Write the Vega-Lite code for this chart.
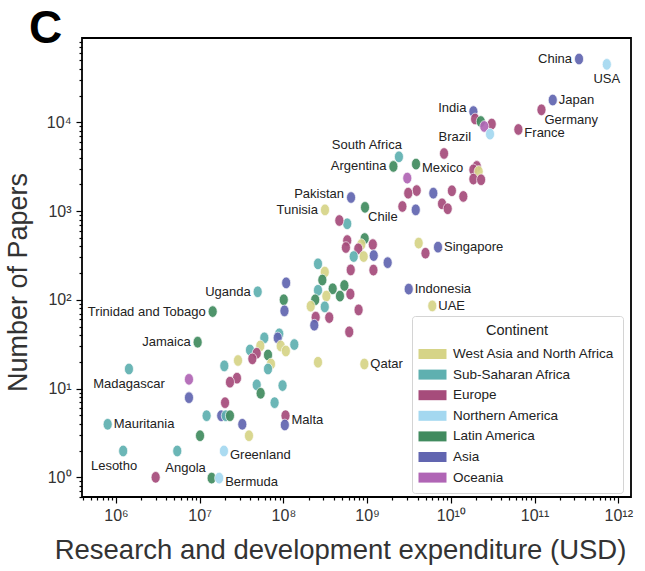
{
  "$schema": "https://vega.github.io/schema/vega-lite/v6.json",
  "autosize": "none",
  "width": 549,
  "height": 459,
  "padding": {"left": 82, "top": 38, "right": 14, "bottom": 74},
  "title": {"text": "C", "anchor": "start", "frame": "group", "fontSize": 46, "fontWeight": "bold", "font": "Liberation Sans", "color": "black", "dx": -53, "offset": -19},
  "config": {
    "view": {"stroke": "black", "strokeWidth": 1.8},
    "font": "Liberation Sans",
    "axis": {"domain": false, "grid": false, "tickColor": "black", "tickWidth": 1.2, "labelColor": "#333", "titleColor": "#333", "labelFont": "Liberation Sans", "titleFont": "Liberation Sans", "titleFontWeight": "normal", "labelOverlap": false, "labelFlush": false, "labelBound": false},
    "text": {"font": "Liberation Sans", "fontSize": 13, "color": "#222"}
  },
  "data": {"values": [
    {"country": "China", "continent": "Asia", "rd": 3.4e11, "papers": 51600},
    {"country": "USA", "continent": "Northern America", "rd": 7.3e11, "papers": 44900},
    {"country": "Japan", "continent": "Asia", "rd": 1.65e11, "papers": 17800},
    {"country": "Germany", "continent": "Europe", "rd": 1.21e11, "papers": 13800},
    {"country": "France", "continent": "Europe", "rd": 6.41e10, "papers": 8300},
    {"country": "India", "continent": "Asia", "rd": 1.86e10, "papers": 13200},
    {"country": "", "continent": "Europe", "rd": 1.95e10, "papers": 10900},
    {"country": "Brazil", "continent": "Latin America", "rd": 2.28e10, "papers": 10200},
    {"country": "", "continent": "Europe", "rd": 3.08e10, "papers": 9550},
    {"country": "", "continent": "Oceania", "rd": 2.51e10, "papers": 8970},
    {"country": "", "continent": "Northern America", "rd": 2.94e10, "papers": 7360},
    {"country": "", "continent": "Europe", "rd": 8.3e9, "papers": 4450},
    {"country": "South Africa", "continent": "Sub-Saharan Africa", "rd": 2.4e9, "papers": 4080},
    {"country": "Argentina", "continent": "Latin America", "rd": 2.06e9, "papers": 3180},
    {"country": "Mexico", "continent": "Latin America", "rd": 3.84e9, "papers": 3380},
    {"country": "", "continent": "Oceania", "rd": 3.02e9, "papers": 2350},
    {"country": "", "continent": "Europe", "rd": 2.04e10, "papers": 3180},
    {"country": "", "continent": "Europe", "rd": 1.86e10, "papers": 2910},
    {"country": "", "continent": "West Asia and North Africa", "rd": 2.15e10, "papers": 2790},
    {"country": "", "continent": "Europe", "rd": 1.86e10, "papers": 2290},
    {"country": "", "continent": "Europe", "rd": 2.3e10, "papers": 2250},
    {"country": "", "continent": "Europe", "rd": 3.91e9, "papers": 1700},
    {"country": "", "continent": "Europe", "rd": 3.1e9, "papers": 1590},
    {"country": "", "continent": "Asia", "rd": 6.18e9, "papers": 1590},
    {"country": "", "continent": "Europe", "rd": 1.03e10, "papers": 1690},
    {"country": "", "continent": "Europe", "rd": 1.41e10, "papers": 1460},
    {"country": "", "continent": "Europe", "rd": 7.85e9, "papers": 1205},
    {"country": "", "continent": "Europe", "rd": 9.18e9, "papers": 1060},
    {"country": "", "continent": "Europe", "rd": 2.64e9, "papers": 1125},
    {"country": "", "continent": "Asia", "rd": 3.81e9, "papers": 1030},
    {"country": "Pakistan", "continent": "Asia", "rd": 6.43e8, "papers": 1420},
    {"country": "Chile", "continent": "Latin America", "rd": 9.44e8, "papers": 1100},
    {"country": "", "continent": "Sub-Saharan Africa", "rd": 5.79e8, "papers": 718},
    {"country": "Tunisia", "continent": "West Asia and North Africa", "rd": 3.14e8, "papers": 1030},
    {"country": "", "continent": "Europe", "rd": 4.66e8, "papers": 782},
    {"country": "", "continent": "Latin America", "rd": 9.35e8, "papers": 490},
    {"country": "", "continent": "Europe", "rd": 5.79e8, "papers": 465},
    {"country": "", "continent": "Europe", "rd": 5.58e8, "papers": 388},
    {"country": "", "continent": "West Asia and North Africa", "rd": 8.53e8, "papers": 419},
    {"country": "", "continent": "Europe", "rd": 7.85e8, "papers": 375},
    {"country": "", "continent": "Europe", "rd": 1.17e9, "papers": 419},
    {"country": "", "continent": "Sub-Saharan Africa", "rd": 6.92e8, "papers": 307},
    {"country": "", "continent": "West Asia and North Africa", "rd": 9.1e8, "papers": 307},
    {"country": "", "continent": "Asia", "rd": 1.2e9, "papers": 315},
    {"country": "", "continent": "Asia", "rd": 1.76e9, "papers": 262},
    {"country": "", "continent": "Europe", "rd": 6.37e8, "papers": 217},
    {"country": "", "continent": "Europe", "rd": 1.19e9, "papers": 216},
    {"country": "", "continent": "West Asia and North Africa", "rd": 4.13e9, "papers": 435},
    {"country": "", "continent": "Europe", "rd": 4.98e9, "papers": 335},
    {"country": "Singapore", "continent": "Asia", "rd": 7.03e9, "papers": 392},
    {"country": "Indonesia", "continent": "Asia", "rd": 3.14e9, "papers": 132},
    {"country": "UAE", "continent": "West Asia and North Africa", "rd": 6.01e9, "papers": 85.3},
    {"country": "", "continent": "Sub-Saharan Africa", "rd": 2.59e8, "papers": 254},
    {"country": "", "continent": "West Asia and North Africa", "rd": 3.12e8, "papers": 205},
    {"country": "", "continent": "Latin America", "rd": 2.92e8, "papers": 167},
    {"country": "", "continent": "Sub-Saharan Africa", "rd": 2.59e8, "papers": 128},
    {"country": "", "continent": "Latin America", "rd": 3.88e8, "papers": 133},
    {"country": "", "continent": "Latin America", "rd": 5.35e8, "papers": 145},
    {"country": "", "continent": "Latin America", "rd": 4.74e8, "papers": 110},
    {"country": "", "continent": "Europe", "rd": 6.31e8, "papers": 116},
    {"country": "", "continent": "West Asia and North Africa", "rd": 3.26e8, "papers": 110},
    {"country": "", "continent": "Latin America", "rd": 2.4e8, "papers": 99.8},
    {"country": "", "continent": "West Asia and North Africa", "rd": 2.12e8, "papers": 84.7},
    {"country": "", "continent": "Sub-Saharan Africa", "rd": 3.12e8, "papers": 83.2},
    {"country": "", "continent": "Europe", "rd": 7.91e8, "papers": 76.9},
    {"country": "", "continent": "Europe", "rd": 2.43e8, "papers": 63.7},
    {"country": "", "continent": "Europe", "rd": 3.53e8, "papers": 63},
    {"country": "", "continent": "Asia", "rd": 2.34e8, "papers": 51.8},
    {"country": "", "continent": "Europe", "rd": 6.12e8, "papers": 43.5},
    {"country": "Uganda", "continent": "Sub-Saharan Africa", "rd": 4.93e7, "papers": 123},
    {"country": "", "continent": "Asia", "rd": 1.08e8, "papers": 155},
    {"country": "", "continent": "Latin America", "rd": 1.01e8, "papers": 100},
    {"country": "", "continent": "Asia", "rd": 1.03e8, "papers": 75},
    {"country": "Trinidad and Tobago", "continent": "Latin America", "rd": 1.43e7, "papers": 73.6},
    {"country": "Jamaica", "continent": "Latin America", "rd": 9.46e6, "papers": 33.3},
    {"country": "", "continent": "West Asia and North Africa", "rd": 2.59e8, "papers": 19.8},
    {"country": "Qatar", "continent": "West Asia and North Africa", "rd": 9.27e8, "papers": 18.9},
    {"country": "", "continent": "Sub-Saharan Africa", "rd": 5.92e7, "papers": 37.2},
    {"country": "", "continent": "Sub-Saharan Africa", "rd": 8.93e7, "papers": 41.3},
    {"country": "", "continent": "Asia", "rd": 8.55e7, "papers": 37.2},
    {"country": "", "continent": "West Asia and North Africa", "rd": 9.29e7, "papers": 30.2},
    {"country": "", "continent": "West Asia and North Africa", "rd": 1.07e8, "papers": 26.5},
    {"country": "", "continent": "Sub-Saharan Africa", "rd": 1.35e8, "papers": 31.3},
    {"country": "", "continent": "West Asia and North Africa", "rd": 5.3e7, "papers": 30.2},
    {"country": "", "continent": "Sub-Saharan Africa", "rd": 3.99e7, "papers": 27.2},
    {"country": "", "continent": "Europe", "rd": 4.8e7, "papers": 25},
    {"country": "", "continent": "Europe", "rd": 4.26e7, "papers": 21.6},
    {"country": "", "continent": "Latin America", "rd": 6.55e7, "papers": 23.9},
    {"country": "", "continent": "West Asia and North Africa", "rd": 7.11e7, "papers": 18.9},
    {"country": "", "continent": "Sub-Saharan Africa", "rd": 6.55e7, "papers": 16.6},
    {"country": "", "continent": "West Asia and North Africa", "rd": 2.87e7, "papers": 20.7},
    {"country": "", "continent": "Sub-Saharan Africa", "rd": 1.97e7, "papers": 18},
    {"country": "", "continent": "Europe", "rd": 2.79e7, "papers": 13.1},
    {"country": "", "continent": "Europe", "rd": 2.3e7, "papers": 11.8},
    {"country": "", "continent": "Sub-Saharan Africa", "rd": 4.8e7, "papers": 11},
    {"country": "", "continent": "Latin America", "rd": 5.35e7, "papers": 8.85},
    {"country": "", "continent": "Sub-Saharan Africa", "rd": 9.77e7, "papers": 10.8},
    {"country": "", "continent": "Sub-Saharan Africa", "rd": 7.85e7, "papers": 6.93},
    {"country": "", "continent": "Europe", "rd": 2.01e7, "papers": 6.93},
    {"country": "", "continent": "Oceania", "rd": 7.45e6, "papers": 12.7},
    {"country": "", "continent": "Asia", "rd": 7.45e6, "papers": 7.89},
    {"country": "Madagascar", "continent": "Sub-Saharan Africa", "rd": 1.43e6, "papers": 16.6},
    {"country": "", "continent": "Sub-Saharan Africa", "rd": 1.21e7, "papers": 4.94},
    {"country": "", "continent": "Asia", "rd": 1.81e7, "papers": 4.94},
    {"country": "", "continent": "Sub-Saharan Africa", "rd": 2.05e7, "papers": 4.94},
    {"country": "", "continent": "Latin America", "rd": 2.3e7, "papers": 4.94},
    {"country": "", "continent": "Asia", "rd": 3.23e7, "papers": 3.96},
    {"country": "", "continent": "West Asia and North Africa", "rd": 3.88e7, "papers": 2.94},
    {"country": "Malta", "continent": "Europe", "rd": 1.06e8, "papers": 4.94},
    {"country": "", "continent": "Asia", "rd": 1.04e8, "papers": 3.89},
    {"country": "", "continent": "Latin America", "rd": 1.01e7, "papers": 2.94},
    {"country": "Mauritania", "continent": "Sub-Saharan Africa", "rd": 7.96e5, "papers": 3.96},
    {"country": "Lesotho", "continent": "Sub-Saharan Africa", "rd": 1.22e6, "papers": 1.98},
    {"country": "Angola", "continent": "Sub-Saharan Africa", "rd": 5.4e6, "papers": 1.98},
    {"country": "Greenland", "continent": "Northern America", "rd": 1.95e7, "papers": 1.98},
    {"country": "", "continent": "Europe", "rd": 2.98e6, "papers": 1.0},
    {"country": "", "continent": "Latin America", "rd": 1.39e7, "papers": 0.98},
    {"country": "Bermuda", "continent": "Northern America", "rd": 1.71e7, "papers": 0.98}
  ]},
  "encoding": {
    "x": {"field": "rd", "type": "quantitative",
      "scale": {"type": "log", "domain": [393000, 1.42e12], "nice": false},
      "axis": {"title": "Research and development expenditure (USD)", "titleFontSize": 27.5, "titlePadding": 13, "titleX": 258, "labelFontSize": 16, "labelPadding": 4,
        "values": [400000,500000,600000,700000,800000,900000,1e6,2e6,3e6,4e6,5e6,6e6,7e6,8e6,9e6,1e7,2e7,3e7,4e7,5e7,6e7,7e7,8e7,9e7,1e8,2e8,3e8,4e8,5e8,6e8,7e8,8e8,9e8,1e9,2e9,3e9,4e9,5e9,6e9,7e9,8e9,9e9,1e10,2e10,3e10,4e10,5e10,6e10,7e10,8e10,9e10,1e11,2e11,3e11,4e11,5e11,6e11,7e11,8e11,9e11,1e12],
        "tickSize": {"condition": {"test": "abs(log(datum.value)/LN10 - round(log(datum.value)/LN10)) < 1e-6", "value": 6}, "value": 3},
        "labelExpr": "(abs(log(datum.value)/LN10 - round(log(datum.value)/LN10)) < 1e-6) ? '10' + (round(log(datum.value)/LN10) >= 10 ? '¹' : '') + ['⁰','¹','²','³','⁴','⁵','⁶','⁷','⁸','⁹'][round(log(datum.value)/LN10) % 10] : ''"}},
    "y": {"field": "papers", "type": "quantitative",
      "scale": {"type": "log", "domain": [0.6, 89000], "nice": false},
      "axis": {"title": "Number of Papers", "titleFontSize": 27, "titlePadding": 14, "titleY": 244, "labelFontSize": 16, "labelPadding": 5,
        "values": [0.6,0.7,0.8,0.9,1,2,3,4,5,6,7,8,9,10,20,30,40,50,60,70,80,90,100,200,300,400,500,600,700,800,900,1000,2000,3000,4000,5000,6000,7000,8000,9000,10000,20000,30000,40000,50000,60000,70000,80000],
        "tickSize": {"condition": {"test": "abs(log(datum.value)/LN10 - round(log(datum.value)/LN10)) < 1e-6", "value": 6}, "value": 3},
        "labelExpr": "(abs(log(datum.value)/LN10 - round(log(datum.value)/LN10)) < 1e-6) ? '10' + (round(log(datum.value)/LN10) >= 10 ? '¹' : '') + ['⁰','¹','²','³','⁴','⁵','⁶','⁷','⁸','⁹'][round(log(datum.value)/LN10) % 10] : ''"}}
  },
  "layer": [
    {
      "mark": {"type": "point", "filled": true, "shape": "M0,-1A0.78,1,0,1,1,0,1A0.78,1,0,1,1,0,-1Z", "size": 135, "opacity": 0.92, "stroke": "white", "strokeWidth": 0.7, "strokeOpacity": 1},
      "encoding": {
        "color": {"field": "continent", "type": "nominal",
          "scale": {"domain": ["West Asia and North Africa", "Sub-Saharan Africa", "Europe", "Northern America", "Latin America", "Asia", "Oceania"],
                    "range": ["#d6d487", "#5fb0b0", "#a64c7b", "#a4d8f0", "#418b5f", "#6165b0", "#b065b5"]},
          "legend": {"title": "Continent", "orient": "none", "legendX": 330, "legendY": 278, "padding": 8, "symbolOffset": 5,
            "titleAnchor": "middle", "titleFontSize": 14.5, "titleFontWeight": "normal", "titleColor": "#222", "titlePadding": 8,
            "labelFontSize": 13.5, "labelColor": "#222", "labelOffset": 13, "labelLimit": 300, "rowPadding": 6.6,
            "fillColor": "white", "strokeColor": "#d4d4d4", "cornerRadius": 3,
            "symbolType": "M-1.98,-0.707H1.98V0.707H-1.98Z", "symbolSize": 200, "symbolOpacity": 1, "symbolStrokeWidth": 0,
            "encode": {"legend": {"update": {"strokeWidth": {"value": 1.5}}},
                       "symbols": {"enter": {"shape": {"value": "M-1.98,-0.707H1.98V0.707H-1.98Z"}, "size": {"value": 200}}, "update": {"shape": {"value": "M-1.98,-0.707H1.98V0.707H-1.98Z"}, "size": {"value": 200}, "opacity": {"value": 1}, "strokeWidth": {"value": 0}}}}}}
      }
    },
    {
      "transform": [{"filter": "indexof(['China','Argentina','Tunisia','Uganda','Trinidad and Tobago','Jamaica'], datum.country) >= 0"}],
      "mark": {"type": "text", "align": "right", "baseline": "middle", "dx": -7, "dy": 0},
      "encoding": {"text": {"field": "country"}}
    },
    {
      "transform": [{"filter": "indexof(['India','Pakistan'], datum.country) >= 0"}],
      "mark": {"type": "text", "align": "right", "baseline": "middle", "dx": -7, "dy": -4},
      "encoding": {"text": {"field": "country"}}
    },
    {
      "transform": [{"filter": "indexof(['Japan','Singapore','Indonesia','UAE','Qatar','Mauritania'], datum.country) >= 0"}],
      "mark": {"type": "text", "align": "left", "baseline": "middle", "dx": 6, "dy": 0},
      "encoding": {"text": {"field": "country"}}
    },
    {
      "transform": [{"filter": "indexof(['Mexico','Malta','Bermuda','France','Greenland'], datum.country) >= 0"}],
      "mark": {"type": "text", "align": "left", "baseline": "middle", "dx": 6, "dy": 4},
      "encoding": {"text": {"field": "country"}}
    },
    {
      "transform": [{"filter": "indexof(['Germany','Chile'], datum.country) >= 0"}],
      "mark": {"type": "text", "align": "left", "baseline": "middle", "dx": 3, "dy": 10},
      "encoding": {"text": {"field": "country"}}
    },
    {
      "transform": [{"filter": "indexof(['USA','Madagascar'], datum.country) >= 0"}],
      "mark": {"type": "text", "align": "center", "baseline": "middle", "dx": 0, "dy": 15},
      "encoding": {"text": {"field": "country"}}
    },
    {
      "transform": [{"filter": "datum.country == 'Lesotho'"}],
      "mark": {"type": "text", "align": "right", "baseline": "middle", "dx": 14, "dy": 15},
      "encoding": {"text": {"field": "country"}}
    },
    {
      "transform": [{"filter": "datum.country == 'Angola'"}],
      "mark": {"type": "text", "align": "left", "baseline": "middle", "dx": -12, "dy": 17},
      "encoding": {"text": {"field": "country"}}
    },
    {
      "transform": [{"filter": "datum.country == 'South Africa'"}],
      "mark": {"type": "text", "align": "right", "baseline": "middle", "dx": 3, "dy": -12},
      "encoding": {"text": {"field": "country"}}
    },
    {
      "transform": [{"filter": "datum.country == 'Brazil'"}],
      "mark": {"type": "text", "align": "center", "baseline": "middle", "dx": -26, "dy": 15},
      "encoding": {"text": {"field": "country"}}
    },
    {
      "data": {"values": [{"note": "R2=0.83"}]},
      "mark": {"type": "text", "align": "left", "baseline": "middle", "fontSize": 30, "fontWeight": "bold", "color": "black"},
      "encoding": {"x": {"datum": 531000}, "y": {"datum": 48100}, "text": {"field": "note"}}
    }
  ]
}
